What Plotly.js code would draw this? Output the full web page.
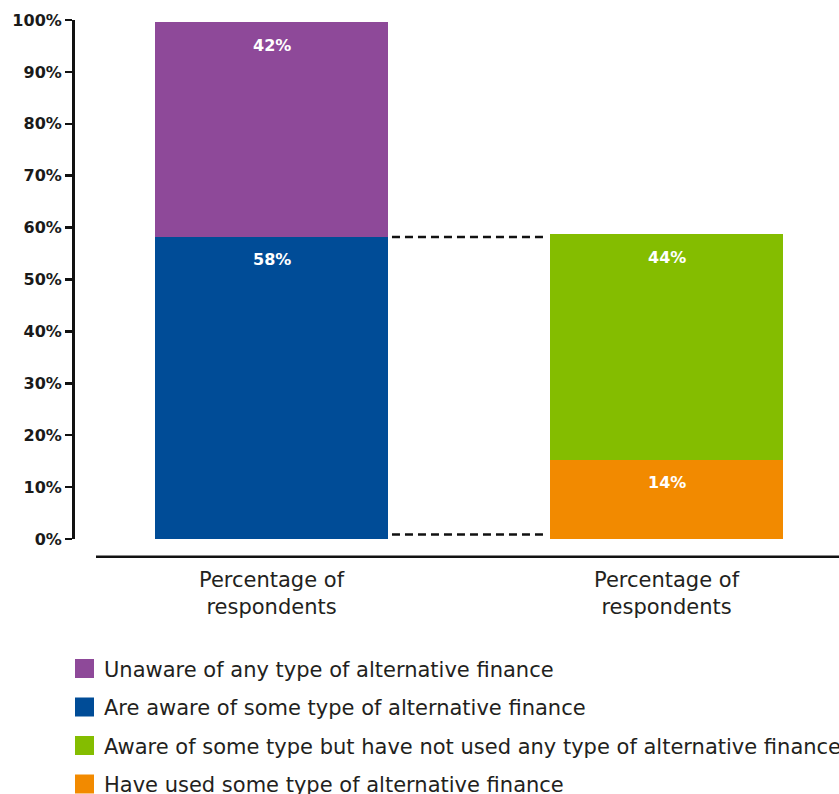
<!DOCTYPE html>
<html><head><meta charset="utf-8">
<script src="https://cdn.plot.ly/plotly-3.0.1.min.js"></script>
<style>html,body{margin:0;padding:0;background:#fff}#chart{width:839px;height:794px}</style>
</head><body><div id="chart"></div>
<script>
// ---- data ----
const categoryLabels = ["Percentage of<br>respondents", "Percentage of<br>respondents"];
const barPositions = [0, 1];
const seriesNames = [
  "Unaware of any type of alternative finance",
  "Are aware of some type of alternative finance",
  "Aware of some type but have not used any type of alternative finance",
  "Have used some type of alternative finance"
];
const seriesColors = ["#8e4999", "#004c97", "#84bd00", "#f28a00"];
const unawareValues = [41.4, null];
const awareValues = [58.2, null];
const notUsedValues = [null, 43.4];
const usedValues = [null, 15.3];
const unawareLabels = ["42%", ""];
const awareLabels = ["58%", ""];
const notUsedLabels = ["", "44%"];
const usedLabels = ["", "14%"];
const yTickVals = [0, 10, 20, 30, 40, 50, 60, 70, 80, 90, 100];
const yTickLabels = ["0%", "10%", "20%", "30%", "40%", "50%", "60%", "70%", "80%", "90%", "100%"];

// ---- layout constants ----
const W = 839, H = 794;
const M = {l: 75, r: 0, t: 20, b: 255};
const plotW = W - M.l - M.r, plotH = H - M.t - M.b;
const pxX = px => (px - M.l) / plotW;
const pxY = py => (H - M.b - py) / plotH;
const barWidth = 0.59;
const FONT = "DejaVu Sans, sans-serif";
const TEXT = "#231f20";

// stacking order: bottom first
const stackDefs = [
  {vals: awareValues, labels: awareLabels, name: seriesNames[1], color: seriesColors[1]},
  {vals: unawareValues, labels: unawareLabels, name: seriesNames[0], color: seriesColors[0]},
  {vals: usedValues, labels: usedLabels, name: seriesNames[3], color: seriesColors[3]},
  {vals: notUsedValues, labels: notUsedLabels, name: seriesNames[2], color: seriesColors[2]}
];

const traces = stackDefs.map(d => ({
  type: "bar", x: barPositions, y: d.vals, name: d.name, width: barWidth,
  marker: {color: d.color, line: {width: 0}}, hoverinfo: "skip", showlegend: false
}));

const annotations = [];
const cum = barPositions.map(() => 0);
stackDefs.forEach(d => {
  d.vals.forEach((v, i) => {
    if (v == null) return;
    cum[i] += v;
    annotations.push({
      x: barPositions[i], y: cum[i], xref: "x", yref: "y", text: d.labels[i],
      showarrow: false, yshift: -23, xanchor: "center", yanchor: "middle",
      font: {family: FONT, size: 16, color: "#ffffff", weight: "bold"}
    });
  });
});

// legend built from series arrays
const legendTop = 668.5, legendStep = 38.5, sq = 19;
const shapes = [];
seriesNames.forEach((n, i) => {
  const cy = legendTop + i * legendStep;
  shapes.push({type: "rect", xref: "paper", yref: "paper",
    x0: pxX(75), x1: pxX(75 + sq), y0: pxY(cy + sq / 2), y1: pxY(cy - sq / 2),
    fillcolor: seriesColors[i], line: {width: 0}});
  annotations.push({xref: "paper", yref: "paper", x: pxX(102), y: pxY(cy + 1),
    xanchor: "left", yanchor: "middle", showarrow: false, text: n,
    font: {family: FONT, size: 21, color: TEXT}});
});

// x axis baseline
shapes.push({type: "line", xref: "paper", yref: "paper", x0: pxX(96), x1: 1,
  y0: pxY(556.7), y1: pxY(556.7), line: {color: "#111", width: 2.5}});

// dashed connectors between the bars
const gap = 0.01;
const xL = barPositions[0] + barWidth / 2 + gap;
const xR = barPositions[1] - barWidth / 2 - gap;
shapes.push({type: "line", xref: "x", yref: "y", x0: xL, x1: xR,
  y0: awareValues[0], y1: awareValues[0], line: {color: "#111", width: 2.5, dash: "8px,5px"}});
shapes.push({type: "line", xref: "x", yref: "y", ysizemode: "pixel", yanchor: 0,
  x0: xL, x1: xR, y0: 4.5, y1: 4.5, line: {color: "#111", width: 2.5, dash: "8px,5px"}});

const xRangeL = -(271.5 - M.l) / 395;
const xRangeR = xRangeL + plotW / 395;

const layout = {
  width: W, height: H, margin: M, barmode: "stack", showlegend: false,
  paper_bgcolor: "#fff", plot_bgcolor: "#fff",
  xaxis: {type: "linear", range: [xRangeL, xRangeR], tickvals: barPositions, ticktext: categoryLabels,
    showline: false, showgrid: false, zeroline: false, ticks: "", ticklabelstandoff: 26,
    tickfont: {family: FONT, size: 21, color: TEXT}, fixedrange: true},
  yaxis: {range: [0, 100], tickvals: yTickVals, ticktext: yTickLabels, showgrid: false, zeroline: false,
    showline: true, linecolor: "#111", linewidth: 3, ticks: "outside", ticklen: 7, tickwidth: 2.5,
    tickcolor: "#111", tickfont: {family: FONT, size: 16, color: "#1a1a1a", weight: "bold"}, fixedrange: true},
  shapes: shapes, annotations: annotations
};

Plotly.newPlot("chart", traces, layout, {displayModeBar: false, staticPlot: true});
</script>
</body></html>
